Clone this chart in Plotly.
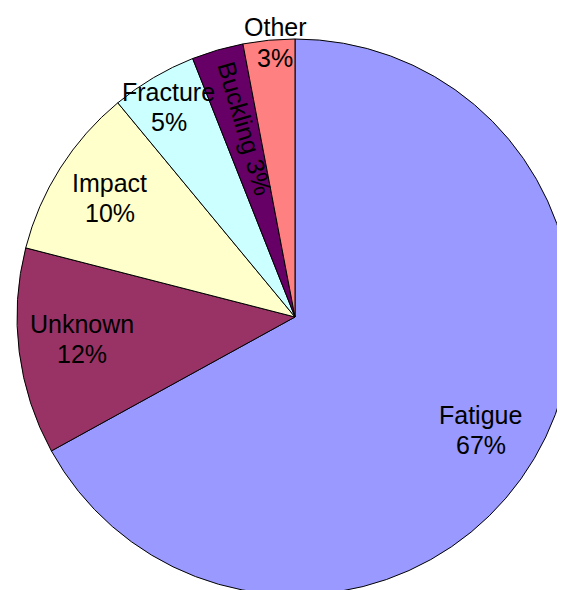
import math
import plotly.graph_objects as go

labels = ["Fatigue", "Unknown", "Impact", "Fracture", "Buckling", "Other"]
values = [67, 12, 10, 5, 3, 3]
colors = ["#9999FF", "#993366", "#FFFFCC", "#CCFFFF", "#660066", "#FF8080"]

# label placement style (fraction of radius from centre, small angular nudge in degrees)
label_radius = [0.782, 0.769, 0.791, 0.881, 0.70, 0.936]
label_nudge = [0.6, 1.2, 0.3, -0.4, 1.4, 1.1]
line_gap = 15                # px half-gap between name and percent lines

W, H = 565, 590
dom_x = [9 / W, 1.0]
dom_y = [3 / H, 1 - 31 / H]

FONT = dict(family="Liberation Sans, Arial, sans-serif", size=25, color="#000000")

fig = go.Figure()
fig.add_trace(go.Pie(
    labels=labels, values=values, sort=False, direction="clockwise", rotation=0,
    marker=dict(colors=colors, line=dict(color="#000000", width=1)),
    textinfo="none", domain=dict(x=dom_x, y=dom_y),
    hoverinfo="label+percent", showlegend=False,
))

# pie geometry in pixels (plotly: radius = half the smaller domain side)
wpx = (dom_x[1] - dom_x[0]) * W
hpx = (dom_y[1] - dom_y[0]) * H
r = min(wpx, hpx) / 2
cx = (dom_x[0] + dom_x[1]) / 2 * W
cy = (1 - (dom_y[0] + dom_y[1]) / 2) * H

total = sum(values)
annotations = []
def add(text, px, py, angle=0):
    annotations.append(dict(text=text, x=px / W, y=1 - py / H, xref="paper", yref="paper",
                            showarrow=False, xanchor="center", yanchor="middle",
                            textangle=angle, font=FONT))

cum = 0
for lab, v, f, nd in zip(labels, values, label_radius, label_nudge):
    mid = (cum + v / 2) / total * 2 * math.pi
    cum += v
    pct = f"{round(100 * v / total)}%"
    a = mid + math.radians(nd)
    px, py = cx + f * r * math.sin(a), cy - f * r * math.cos(a)
    if lab == "Buckling":
        add(f"{lab} {pct}", px, py, math.degrees(mid) - 270)
    elif lab == "Other":
        add(pct, px, py)
        add(lab, px, py - 2 * line_gap - 1)   # name sits outside the rim
    else:
        add(lab, px, py - line_gap)
        add(pct, px, py + line_gap)

fig.update_layout(width=W, height=H, margin=dict(l=0, r=0, t=0, b=0),
                  paper_bgcolor="white", plot_bgcolor="white", showlegend=False,
                  annotations=annotations)
fig.write_html("out.html")
